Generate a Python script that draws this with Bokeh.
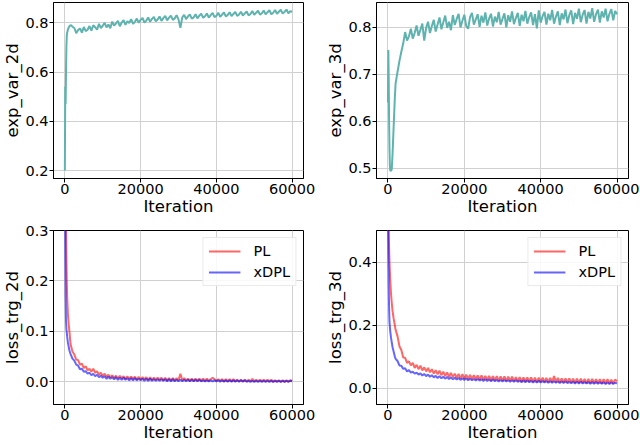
from bokeh.plotting import figure
from bokeh.layouts import gridplot
from bokeh.models import Range1d, FixedTicker, PrintfTickFormatter, BasicTickFormatter, Legend, LegendItem
from bokeh.embed import file_html
from bokeh.resources import INLINE

# ---------------- data ----------------
ITER_EARLY = [0, 100, 200, 300, 400, 500, 600, 800, 1000, 1200, 1500, 1800, 2000]
ITER = ITER_EARLY + list(range(2500, 60001, 500))   # logging steps

EXP_VAR_2D = [
    0.200, 0.540, 0.470, 0.600, 0.700, 0.745, 0.760, 0.772, 0.780, 0.786, 0.790, 0.788, 0.784,
    0.779, 0.758, 0.771, 0.777, 0.760, 0.783, 0.766, 0.772, 0.787, 0.768,
    0.790, 0.782, 0.772, 0.796, 0.779, 0.788, 0.800, 0.781, 0.793, 0.778,
    0.805, 0.789, 0.797, 0.808, 0.786, 0.801, 0.811, 0.792, 0.806, 0.799,
    0.815, 0.796, 0.804, 0.817, 0.800, 0.812, 0.820, 0.801, 0.809, 0.822,
    0.804, 0.816, 0.824, 0.806, 0.813, 0.826, 0.808, 0.819, 0.828, 0.810,
    0.821, 0.829, 0.812, 0.818, 0.831, 0.814, 0.780, 0.822, 0.832, 0.815,
    0.826, 0.834, 0.817, 0.822, 0.835, 0.818, 0.829, 0.837, 0.820, 0.827,
    0.838, 0.821, 0.831, 0.840, 0.823, 0.828, 0.841, 0.824, 0.833, 0.842,
    0.826, 0.832, 0.843, 0.827, 0.836, 0.844, 0.828, 0.834, 0.845, 0.829,
    0.838, 0.846, 0.830, 0.836, 0.848, 0.832, 0.841, 0.849, 0.833, 0.839,
    0.850, 0.834, 0.843, 0.851, 0.835, 0.841, 0.852, 0.837, 0.845, 0.853,
    0.838, 0.844, 0.854, 0.839, 0.847, 0.845,
]

EXP_VAR_3D = [
    0.640, 0.752, 0.690, 0.600, 0.540, 0.505, 0.495, 0.494, 0.498, 0.530, 0.590, 0.650, 0.680,
    0.705, 0.728, 0.748, 0.766, 0.790, 0.772, 0.781, 0.797, 0.776, 0.788,
    0.804, 0.782, 0.795, 0.808, 0.772, 0.799, 0.812, 0.788, 0.803, 0.816,
    0.791, 0.806, 0.821, 0.796, 0.811, 0.825, 0.799, 0.812, 0.794, 0.826,
    0.805, 0.818, 0.829, 0.800, 0.814, 0.827, 0.803, 0.797, 0.822, 0.831,
    0.806, 0.817, 0.828, 0.801, 0.825, 0.810, 0.832, 0.804, 0.819, 0.829,
    0.802, 0.823, 0.811, 0.833, 0.806, 0.818, 0.830, 0.800, 0.826, 0.812,
    0.834, 0.807, 0.820, 0.831, 0.803, 0.827, 0.813, 0.835, 0.808, 0.822,
    0.832, 0.805, 0.828, 0.798, 0.836, 0.810, 0.824, 0.833, 0.806, 0.829,
    0.815, 0.837, 0.808, 0.823, 0.834, 0.805, 0.830, 0.817, 0.838, 0.809,
    0.826, 0.836, 0.807, 0.831, 0.818, 0.840, 0.811, 0.827, 0.837, 0.808,
    0.833, 0.819, 0.841, 0.812, 0.828, 0.838, 0.810, 0.834, 0.821, 0.840,
    0.813, 0.829, 0.839, 0.815, 0.835, 0.828,
]

LOSS_2D_PL = [
    0.600, 0.450, 0.360, 0.300, 0.250, 0.200, 0.170, 0.135, 0.115, 0.100, 0.075, 0.066, 0.060,
    0.054, 0.044, 0.043, 0.034, 0.036, 0.027, 0.031, 0.023, 0.026, 0.020,
    0.026, 0.018, 0.021, 0.014, 0.018, 0.012, 0.016, 0.010, 0.014, 0.009,
    0.013, 0.008, 0.012, 0.007, 0.012, 0.007, 0.011, 0.006, 0.011, 0.006,
    0.010, 0.006, 0.010, 0.005, 0.010, 0.005, 0.009, 0.005, 0.009, 0.004,
    0.009, 0.004, 0.008, 0.004, 0.008, 0.004, 0.008, 0.003, 0.008, 0.003,
    0.007, 0.003, 0.007, 0.003, 0.007, 0.003, 0.016, 0.003, 0.007, 0.003,
    0.006, 0.002, 0.006, 0.002, 0.006, 0.002, 0.006, 0.002, 0.006, 0.002,
    0.006, 0.002, 0.005, 0.008, 0.005, 0.002, 0.005, 0.002, 0.005, 0.001,
    0.005, 0.001, 0.005, 0.001, 0.005, 0.001, 0.004, 0.001, 0.004, 0.001,
    0.004, 0.001, 0.004, 0.001, 0.006, 0.001, 0.004, 0.001, 0.004, 0.001,
    0.004, 0.001, 0.004, 0.001, 0.004, 0.000, 0.003, 0.001, 0.003, 0.000,
    0.003, 0.000, 0.003, 0.001, 0.003, 0.002,
]

LOSS_2D_XDPL = [
    0.500, 0.300, 0.170, 0.120, 0.105, 0.098, 0.090, 0.078, 0.070, 0.062, 0.055, 0.050, 0.046,
    0.042, 0.034, 0.032, 0.025, 0.026, 0.020, 0.021, 0.016, 0.018, 0.013,
    0.016, 0.011, 0.014, 0.009, 0.012, 0.008, 0.011, 0.006, 0.010, 0.006,
    0.009, 0.005, 0.009, 0.004, 0.008, 0.004, 0.008, 0.004, 0.007, 0.003,
    0.007, 0.003, 0.007, 0.003, 0.006, 0.003, 0.006, 0.002, 0.006, 0.002,
    0.006, 0.002, 0.005, 0.002, 0.005, 0.002, 0.005, 0.002, 0.005, 0.001,
    0.005, 0.001, 0.005, 0.001, 0.004, 0.001, 0.004, 0.001, 0.004, 0.001,
    0.004, 0.001, 0.004, 0.001, 0.004, 0.001, 0.004, 0.001, 0.003, 0.001,
    0.003, 0.001, 0.003, 0.001, 0.003, 0.001, 0.003, 0.000, 0.003, 0.000,
    0.003, 0.000, 0.003, 0.000, 0.003, 0.000, 0.003, 0.000, 0.003, 0.000,
    0.003, 0.000, 0.002, 0.000, 0.002, 0.000, 0.002, 0.000, 0.002, 0.000,
    0.002, 0.000, 0.002, 0.000, 0.002, 0.000, 0.002, 0.000, 0.002, 0.000,
    0.002, 0.000, 0.002, 0.000, 0.002, 0.001,
]

LOSS_3D_PL = [
    0.800, 0.600, 0.500, 0.440, 0.400, 0.370, 0.340, 0.300, 0.270, 0.245, 0.220, 0.200, 0.185,
    0.165, 0.133, 0.121, 0.097, 0.096, 0.080, 0.085, 0.072, 0.080, 0.064,
    0.074, 0.060, 0.071, 0.056, 0.066, 0.053, 0.064, 0.050, 0.060, 0.046,
    0.057, 0.044, 0.055, 0.041, 0.052, 0.038, 0.050, 0.036, 0.048, 0.035,
    0.046, 0.033, 0.045, 0.031, 0.044, 0.030, 0.043, 0.029, 0.042, 0.029,
    0.041, 0.028, 0.040, 0.027, 0.040, 0.026, 0.039, 0.026, 0.039, 0.025,
    0.038, 0.025, 0.038, 0.024, 0.037, 0.024, 0.037, 0.023, 0.036, 0.023,
    0.036, 0.022, 0.035, 0.022, 0.035, 0.021, 0.034, 0.021, 0.034, 0.021,
    0.034, 0.020, 0.033, 0.020, 0.033, 0.020, 0.033, 0.020, 0.032, 0.019,
    0.032, 0.019, 0.038, 0.019, 0.032, 0.018, 0.031, 0.018, 0.031, 0.018,
    0.031, 0.018, 0.030, 0.017, 0.030, 0.017, 0.030, 0.017, 0.029, 0.016,
    0.029, 0.016, 0.029, 0.016, 0.028, 0.016, 0.028, 0.015, 0.028, 0.015,
    0.028, 0.015, 0.027, 0.015, 0.027, 0.022,
]

LOSS_3D_XDPL = [
    0.700, 0.450, 0.330, 0.250, 0.210, 0.195, 0.180, 0.160, 0.145, 0.130, 0.115, 0.100, 0.093,
    0.086, 0.072, 0.071, 0.061, 0.063, 0.053, 0.057, 0.049, 0.052, 0.046,
    0.049, 0.043, 0.047, 0.040, 0.045, 0.038, 0.043, 0.036, 0.041, 0.034,
    0.039, 0.032, 0.038, 0.031, 0.036, 0.030, 0.035, 0.029, 0.034, 0.028,
    0.033, 0.027, 0.032, 0.026, 0.031, 0.026, 0.031, 0.025, 0.030, 0.025,
    0.029, 0.024, 0.029, 0.024, 0.028, 0.023, 0.028, 0.023, 0.027, 0.022,
    0.027, 0.022, 0.026, 0.021, 0.026, 0.021, 0.026, 0.021, 0.025, 0.020,
    0.025, 0.020, 0.025, 0.020, 0.024, 0.019, 0.024, 0.019, 0.024, 0.019,
    0.023, 0.018, 0.023, 0.018, 0.023, 0.018, 0.022, 0.018, 0.022, 0.017,
    0.022, 0.017, 0.022, 0.017, 0.021, 0.016, 0.021, 0.016, 0.021, 0.016,
    0.020, 0.016, 0.020, 0.015, 0.020, 0.015, 0.020, 0.015, 0.019, 0.015,
    0.019, 0.014, 0.019, 0.014, 0.019, 0.014, 0.018, 0.014, 0.018, 0.013,
    0.018, 0.013, 0.018, 0.013, 0.017, 0.015,
]

X_TICKS = [0, 20000, 40000, 60000]
Y_TICKS_2D = [0.2, 0.4, 0.6, 0.8]
Y_TICKS_3D = [0.5, 0.6, 0.7, 0.8]
Y_TICKS_L2D = [0.0, 0.1, 0.2, 0.3]
Y_TICKS_L3D = [0.0, 0.2, 0.4]
SERIES_NAMES = ["PL", "xDPL"]

TEAL = "#5fb3ae"
FONT = "DejaVu Sans"


def make_fig(ylabel, yr, yticks, width, height, bl, br, bt):
    p = figure(width=width, height=height, output_backend="svg", toolbar_location=None,
               x_range=Range1d(-3000, 63000), y_range=Range1d(*yr),
               min_border_left=bl, min_border_right=br, min_border_top=bt, min_border_bottom=0)
    p.xaxis.ticker = FixedTicker(ticks=X_TICKS)
    p.yaxis.ticker = FixedTicker(ticks=yticks)
    p.xaxis.formatter = BasicTickFormatter(use_scientific=False)
    p.yaxis.formatter = PrintfTickFormatter(format="%.1f")
    p.xaxis.axis_label = "Iteration"
    p.yaxis.axis_label = ylabel
    for ax in (p.xaxis, p.yaxis):
        ax.axis_label_text_font = FONT
        ax.axis_label_text_font_size = "16.5px"
        ax.axis_label_text_font_style = "normal"
        ax.axis_label_text_color = "black"
        ax.axis_label_text_line_height = 1.0
        ax.major_label_text_font = FONT
        ax.major_label_text_font_size = "14.5px"
        ax.major_label_text_color = "black"
        ax.major_label_text_line_height = 1.0
        ax.major_tick_out = 4
        ax.major_tick_in = 0
        ax.major_tick_line_color = "black"
        ax.minor_tick_line_color = None
        ax.axis_line_color = "black"
    p.xaxis.major_label_standoff = 1
    p.xaxis.axis_label_standoff = 0
    p.yaxis.major_label_standoff = 1
    p.yaxis.axis_label_standoff = 0
    p.outline_line_color = "black"
    p.outline_line_alpha = 1
    p.grid.grid_line_color = "#d0d0d0"
    p.grid.grid_line_width = 1
    return p


def add_legend(p, r1, r2):
    leg = Legend(items=[LegendItem(label=SERIES_NAMES[0], renderers=[r1]),
                        LegendItem(label=SERIES_NAMES[1], renderers=[r2])],
                 location="top_right")
    leg.label_text_font = FONT
    leg.label_text_font_size = "14.5px"
    leg.label_text_color = "black"
    leg.border_line_color = "#d5d5d5"
    leg.background_fill_alpha = 0.85
    leg.glyph_width = 32
    leg.glyph_height = 16
    leg.label_height = 16
    leg.label_standoff = 13
    leg.padding = 5
    leg.spacing = 5
    leg.margin = 7
    p.add_layout(leg)


WL, WR = 320, 319
HT, HB = 218, 226

p1 = make_fig("exp_var_2d", (0.1675, 0.8825), Y_TICKS_2D, WL, HT, 51, 17, 2)
p1.line(ITER, EXP_VAR_2D, line_color=TEAL, line_width=2)

p2 = make_fig("exp_var_3d", (0.478, 0.853), Y_TICKS_3D, WR, HT, 56, 11, 2)
p2.line(ITER, EXP_VAR_3D, line_color=TEAL, line_width=2)

p3 = make_fig("loss_trg_2d", (-0.045, 0.3), Y_TICKS_L2D, WL, HB, 51, 17, 12)
a = p3.line(ITER, LOSS_2D_PL, line_color="red", line_alpha=0.6, line_width=2)
b = p3.line(ITER, LOSS_2D_XDPL, line_color="blue", line_alpha=0.6, line_width=2)
add_legend(p3, a, b)

p4 = make_fig("loss_trg_3d", (-0.052, 0.5), Y_TICKS_L3D, WR, HB, 56, 11, 12)
c = p4.line(ITER, LOSS_3D_PL, line_color="red", line_alpha=0.6, line_width=2)
d = p4.line(ITER, LOSS_3D_XDPL, line_color="blue", line_alpha=0.6, line_width=2)
add_legend(p4, c, d)

grid = gridplot([[p1, p2], [p3, p4]], toolbar_location=None)

open("out.html", "w").write(file_html(grid, INLINE))
